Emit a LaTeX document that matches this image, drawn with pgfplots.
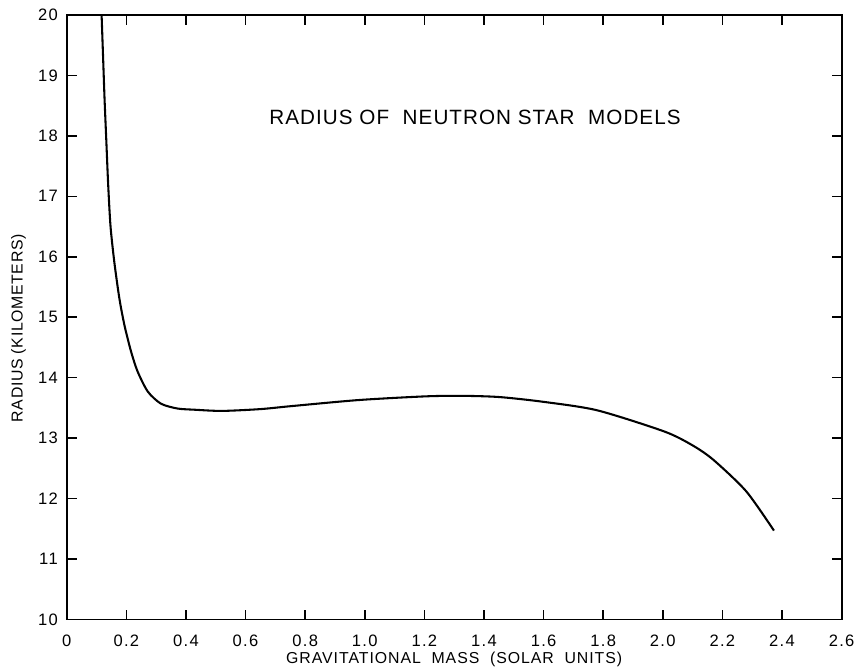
\documentclass[border=0pt]{standalone}
\usepackage{fontspec}
\setmainfont{Liberation Sans}
\usepackage{pgfplots}
\pgfplotsset{compat=1.18}

\begin{document}
\begin{tikzpicture}
  \begin{axis}[
      name=ax,
      scale only axis,
      width=7.78in, height=6.07in,
      xmin=0, xmax=2.6,
      ymin=10, ymax=20,
      xtick={0,0.2,...,2.6},
      xticklabels={0,0.2,0.4,0.6,0.8,1.0,1.2,1.4,1.6,1.8,2.0,2.2,2.4,2.6},
      ytick={10,11,...,20},
      tick align=inside,
      tick pos=both,
      major tick length=0.1in,
      every tick/.style={black, line width=1.1pt},
      axis line style={line width=1.4pt},
      tick label style={font=\fontsize{12}{12}\selectfont\addfontfeatures{LetterSpace=8}},
      /pgf/number format/assume math mode=true,
      xticklabel style={yshift=-8pt},
      yticklabel style={xshift=-3pt},
      xlabel={GRAVITATIONAL\ \ MASS\ \ (SOLAR\ \ UNITS)},
      ylabel={RADIUS (KILOMETERS)},
      xlabel style={font=\fontsize{11.5}{11.5}\selectfont\addfontfeatures{LetterSpace=6}, yshift=3pt},
      ylabel style={font=\fontsize{11.5}{11.5}\selectfont\addfontfeatures{LetterSpace=4}, yshift=2pt, xshift=-8pt},
    ]
    % radius vs mass
    \addplot[black, line width=1.5pt, smooth, tension=0.45] coordinates {
        (0.117,20.00)
        (0.122,19.30)
        (0.127,18.60)
        (0.133,17.90)
        (0.139,17.20)
        (0.147,16.50)
        (0.160,15.90)
        (0.177,15.30)
        (0.194,14.86)
        (0.216,14.43)
        (0.238,14.10)
        (0.272,13.77)
        (0.316,13.57)
        (0.371,13.49)
        (0.428,13.47)
        (0.521,13.45)
        (0.650,13.48)
        (0.755,13.53)
        (0.980,13.63)
        (1.200,13.69)
        (1.320,13.70)
        (1.450,13.68)
        (1.600,13.60)
        (1.780,13.46)
        (2.005,13.11)
        (2.100,12.88)
        (2.170,12.64)
        (2.280,12.12)
        (2.373,11.47)
      };
    \node[font=\fontsize{15}{15}\selectfont\addfontfeatures{LetterSpace=5}]
      at (axis cs:1.37,18.30) {RADIUS OF\ \ NEUTRON STAR\ \ MODELS};
  \end{axis}
  \path[use as bounding box] ([shift={(-0.67in,-0.44in)}]ax.south west)
    rectangle ([shift={(0.14in,0.15in)}]ax.north east);
\end{tikzpicture}
\end{document}
